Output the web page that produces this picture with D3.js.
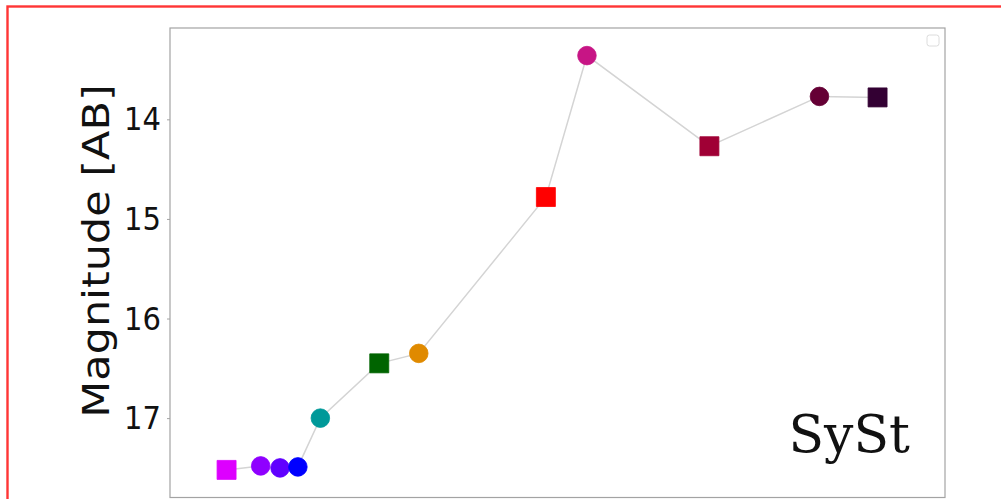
<!DOCTYPE html>
<html>
<head>
<meta charset="utf-8">
<script src="https://cdn.jsdelivr.net/npm/d3@7"></script>
<style>
  html, body { margin: 0; padding: 0; background: #fff; }
  svg { display: block; }
</style>
</head>
<body>
<svg id="chart" width="1001" height="499"></svg>
<script>
// Photometric points of the SED, in plotting order
const bandX = [0.73, 1.17, 1.42, 1.65, 1.94, 2.70, 3.21, 4.85, 5.38, 6.96, 8.38, 9.13];
const magnitudes = [17.52, 17.48, 17.50, 17.49, 17.00, 16.45, 16.35, 14.78, 13.36, 14.27, 13.77, 13.78];
const markerShapes = ["square", "circle", "circle", "circle", "circle", "square", "circle", "square", "circle", "square", "circle", "square"];
const markerColors = ["#dd00ff", "#8f00ff", "#6000ff", "#0000ff", "#009999", "#006400", "#e08a00", "#ff0000", "#c71585", "#a00035", "#650035", "#330033"];
const yTicks = [14, 15, 16, 17];
const yLabel = "Magnitude [AB]";
const classLabel = "SySt";

const svg = d3.select("#chart");
const W = 1001, H = 499;
const plot = { left: 170, right: 945, top: 28, bottom: 497.5 };

// outer frame
svg.append("rect")
  .attr("x", 7.5).attr("y", 6.5)
  .attr("width", W + 10).attr("height", H + 10)
  .attr("fill", "none").attr("stroke", "#ff3535").attr("stroke-width", 2.4);

const x = d3.scaleLinear().domain([0, 10]).range([plot.left, plot.right]);
// magnitudes: brighter is up
const y = d3.scaleLinear().domain([13.083, 17.797]).range([plot.top, plot.bottom]);

// axes box
svg.append("rect")
  .attr("x", plot.left).attr("y", plot.top)
  .attr("width", plot.right - plot.left).attr("height", plot.bottom - plot.top)
  .attr("fill", "#fff").attr("stroke", "#a3a3a3").attr("stroke-width", 1.2);

// y axis
const yAxis = svg.append("g")
  .attr("transform", `translate(${plot.left},0)`)
  .call(d3.axisLeft(y).tickValues(yTicks).tickFormat(d3.format("d")).tickSize(3).tickPadding(6));
yAxis.select(".domain").remove();
yAxis.selectAll(".tick line").attr("stroke", "#a3a3a3");
yAxis.selectAll(".tick text")
  .attr("font-family", "DejaVu Sans, sans-serif")
  .attr("font-size", 29)
  .attr("fill", "#111")
  .attr("transform", "scale(1,1.13)");

// y label
svg.append("text")
  .attr("transform", "translate(96,251) rotate(-90) scale(1.13,1)")
  .attr("text-anchor", "middle")
  .attr("dominant-baseline", "central")
  .attr("font-family", "DejaVu Sans, sans-serif")
  .attr("font-size", 38)
  .attr("fill", "#111")
  .text(yLabel);

// connecting line
const pts = bandX.map((v, i) => ({ x: v, m: magnitudes[i], shape: markerShapes[i], color: markerColors[i] }));
svg.append("path")
  .datum(pts)
  .attr("fill", "none")
  .attr("stroke", "#d4d4d4")
  .attr("stroke-width", 1.5)
  .attr("d", d3.line().x(d => x(d.x)).y(d => y(d.m)));

// markers
const sq = d3.symbol().type(d3.symbolSquare).size(19 * 19);
const ci = d3.symbol().type(d3.symbolCircle).size(Math.PI * 9.3 * 9.3);
svg.append("g").selectAll("path")
  .data(pts)
  .join("path")
  .attr("transform", d => `translate(${x(d.x)},${y(d.m)})`)
  .attr("d", d => d.shape === "square" ? sq() : ci())
  .attr("fill", d => d.color)
  .attr("stroke", d => d.color)
  .attr("stroke-width", 0.8);

// empty legend frame
svg.append("rect")
  .attr("x", 927).attr("y", 35)
  .attr("width", 12).attr("height", 11)
  .attr("rx", 2.5)
  .attr("fill", "#fff").attr("stroke", "#dcdcdc").attr("stroke-width", 1);

// class label
svg.append("text")
  .attr("x", 910).attr("y", 452)
  .attr("text-anchor", "end")
  .attr("font-family", "DejaVu Serif, serif")
  .attr("font-size", 52)
  .attr("fill", "#111")
  .text(classLabel);
</script>
</body>
</html>
